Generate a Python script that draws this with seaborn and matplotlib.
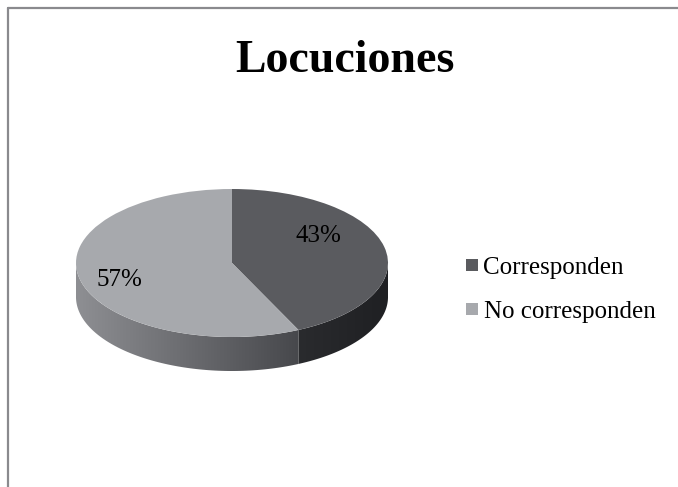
import numpy as np
import matplotlib
matplotlib.use("Agg")
import matplotlib.pyplot as plt
import seaborn as sns
from matplotlib.patches import Polygon
from matplotlib.lines import Line2D

title = "Locuciones"
categories = ["Corresponden", "No corresponden"]
shares = [43, 57]

top_colors = ["#5a5b5f", "#a7a9ad"]
side_colors = [["#2a2b2e", "#1f2023"], ["#8e8f93", "#47484c"]]

sns.set_theme(style="white")
plt.rcParams["font.family"] = ["Liberation Serif", "DejaVu Serif"]
plt.rcParams["text.color"] = "black"

fig = plt.figure(figsize=(6.78, 4.87), dpi=100)
ax = fig.add_axes([40 / 678, 80 / 487, 384 / 678, 288 / 487])

# flattened pie: 156 px per x unit, 74 px per y unit
depth = 34 / 74

wedges, texts, autotexts = ax.pie(
    shares,
    startangle=90,
    counterclock=False,
    colors=top_colors,
    autopct="%1.0f%%",
    textprops={"fontsize": 18, "color": "black"},
    wedgeprops={"linewidth": 0, "zorder": 3},
)

# side walls, built from each wedge's angles (front half only)
for i, w in enumerate(wedges):
    a = max(w.theta1, -180)
    b = min(w.theta2, 0)
    if a >= b:
        continue
    t = np.radians(np.linspace(a, b, 100))
    top = np.column_stack([np.cos(t), np.sin(t)])
    bot = np.column_stack([np.cos(t[::-1]), np.sin(t[::-1]) - depth])
    poly = Polygon(np.vstack([top, bot]), closed=True, facecolor="none",
                   edgecolor="none", transform=ax.transData)
    ax.add_patch(poly)
    cmap = sns.blend_palette(side_colors[i], as_cmap=True)
    x0, x1 = np.cos(t).min(), np.cos(t).max()
    grad = np.linspace(0, 1, 256).reshape(1, -1)
    im = ax.imshow(grad, cmap=cmap, aspect="auto", zorder=1,
                   extent=[x0, x1, -1 - depth, 0.1], interpolation="bilinear")
    im.set_clip_path(poly)

label_pos = [(0.551, 0.284), (-0.724, -0.311)]
for txt, (x, y) in zip(autotexts, label_pos):
    txt.set_position((x, y))
    txt.set_ha("center")
    txt.set_va("baseline")
    txt.set_zorder(5)

ax.set_aspect("auto")
ax.set_xlim(-192 / 156, 192 / 156)
ax.set_ylim(-144 / 74, 144 / 74)
ax.axis("off")

fig.text(345 / 678, 1 - 72 / 487, title, ha="center", va="baseline",
         fontsize=33, fontweight="bold", color="black")

handles = [Line2D([], [], linestyle="none", marker="s", markersize=8,
                  markerfacecolor=c, markeredgewidth=0) for c in top_colors]
leg = fig.legend(handles, categories, loc="center left",
                 bbox_to_anchor=(466 / 678, 1 - 289.5 / 487),
                 frameon=False, fontsize=18, handlelength=0.5, handletextpad=0.2,
                 labelspacing=0.85, borderpad=0, borderaxespad=0)
for t in leg.get_texts():
    t.set_color("black")

# chart area border (left and top edges visible)
fig.add_artist(Line2D([8 / 678, 8 / 678], [0, 1 - 8 / 487], color="#8a8a8e",
                      linewidth=1.6, transform=fig.transFigure))
fig.add_artist(Line2D([8 / 678, 1], [1 - 8 / 487, 1 - 8 / 487], color="#8a8a8e",
                      linewidth=1.6, transform=fig.transFigure))

fig.savefig("out.png", dpi=100)
plt.close(fig)
